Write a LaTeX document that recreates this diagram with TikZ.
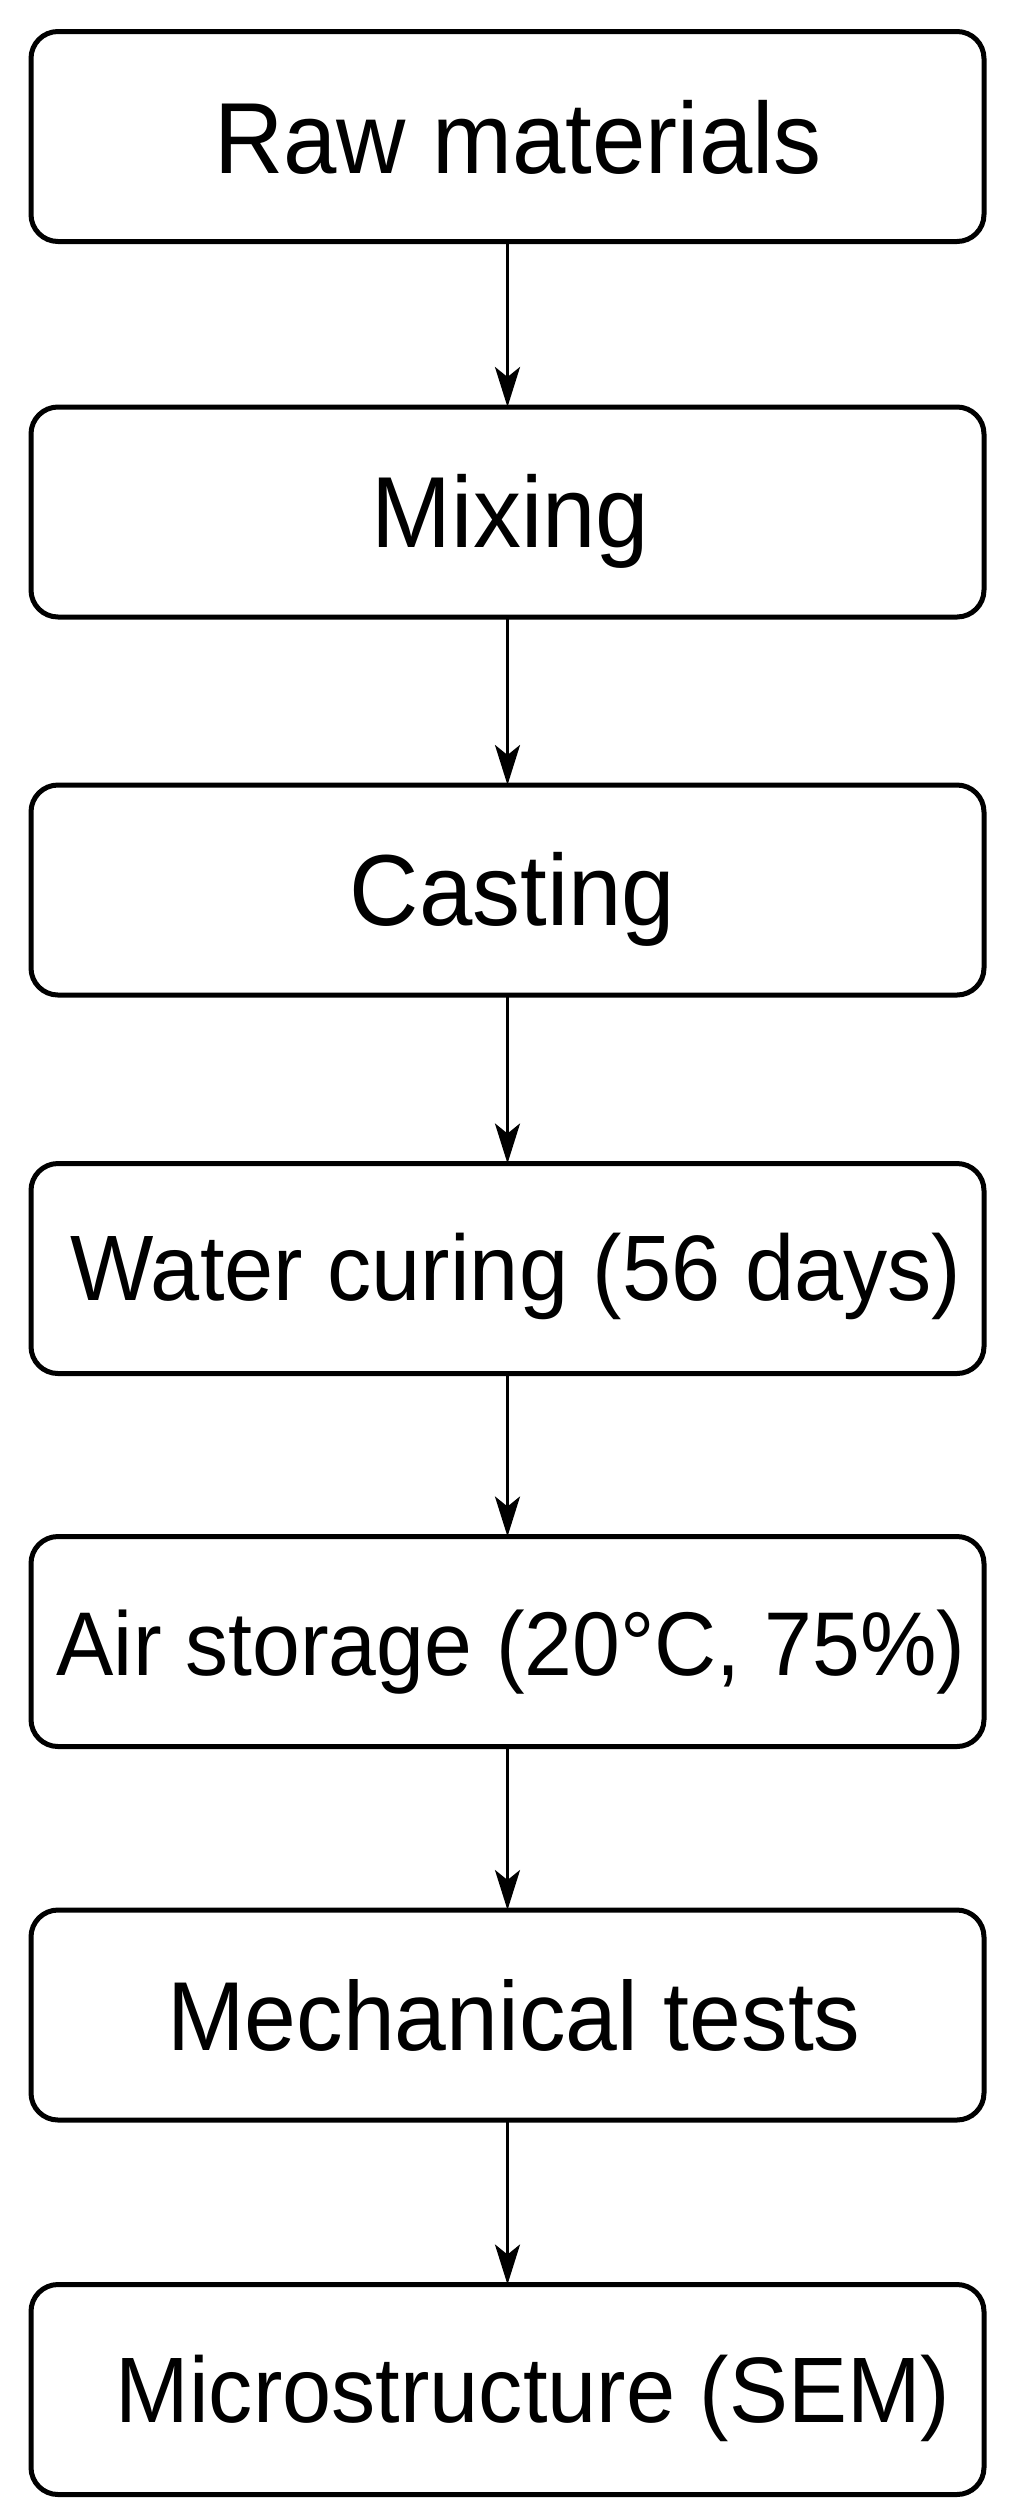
\documentclass[tikz,border=0pt]{standalone}
\usepackage{fontspec}
\setmainfont[FakeStretch=0.95]{Liberation Sans}
\usetikzlibrary{arrows.meta}
\begin{document}
\begin{tikzpicture}[x=1pt,y=-1pt,
  stepbox/.style={draw=black, line width=5pt, rounded corners=27pt, minimum width=953pt, minimum height=210pt, inner sep=0pt, outer sep=0pt},
  lbl/.style={anchor=base, inner sep=0pt},
  flow/.style={draw=black, line width=3.2pt, -{Stealth[length=40pt,width=25pt,inset=10pt]}}]
\useasboundingbox (0,0) rectangle (1022,2520);
\node[stepbox] (b1) at (507.5,136.5) {};
\node[stepbox] (b2) at (507.5,512) {};
\node[stepbox] (b3) at (507.5,890) {};
\node[stepbox] (b4) at (507.5,1268.5) {};
\node[stepbox] (b5) at (507.5,1641.5) {};
\node[stepbox] (b6) at (507.5,2015) {};
\node[stepbox] (b7) at (507.5,2389.5) {};
\node[lbl, font=\fontsize{101}{101}\selectfont] (t1) at (518,173) {Raw materials};
\node[lbl, font=\fontsize{101}{101}\selectfont] (t2) at (510.5,547) {Mixing};
\node[lbl, font=\fontsize{101}{101}\selectfont] (t3) at (512.5,925) {Casting};
\node[lbl, font=\fontsize{93}{95}\selectfont] (t4) at (516,1300) {Water curing (56 days)};
\node[lbl, font=\fontsize{90.5}{95}\selectfont] (t5) at (511,1675) {Air storage (20°C, 75\%)};
\node[lbl, font=\fontsize{98}{100}\selectfont] (t6) at (514,2050) {Mechanical tests};
\node[lbl, font=\fontsize{93}{95}\selectfont] (t7) at (533,2422) {Microstructure (SEM)};
\draw[flow] (b1.south) -- (b2.north);
\draw[flow] (b2.south) -- (b3.north);
\draw[flow] (b3.south) -- (b4.north);
\draw[flow] (b4.south) -- (b5.north);
\draw[flow] (b5.south) -- (b6.north);
\draw[flow] (b6.south) -- (b7.north);
\end{tikzpicture}
\end{document}
